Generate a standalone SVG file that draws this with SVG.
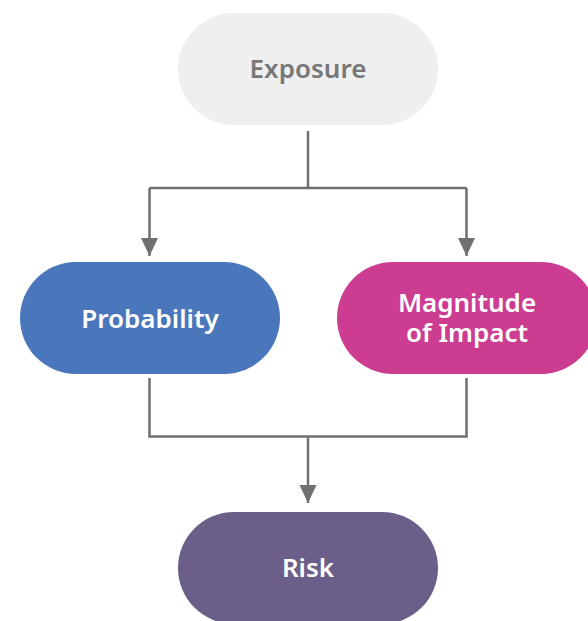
<svg xmlns="http://www.w3.org/2000/svg" width="588" height="621" viewBox="0 0 588 621">
<defs>
<style>
.lbl{font-family:"Noto Sans","Open Sans",sans-serif;font-weight:600;font-size:26px;text-anchor:middle}
.w{fill:#ffffff}
.edge{fill:none;stroke:#707070;stroke-width:2.5}
</style>
<marker id="arr" markerUnits="userSpaceOnUse" markerWidth="18" markerHeight="20" refX="18" refY="8.5" orient="auto" viewBox="0 0 18 17">
<path d="M0,0 L18,8.5 L0,17 Z" fill="#707070"/>
</marker>
</defs>
<rect width="588" height="621" fill="#ffffff"/>
<g id="connectors">
<path class="edge" d="M308,131 V188"/>
<path class="edge" d="M149.5,188 H466.5"/>
<path class="edge" d="M149.5,188 V256" marker-end="url(#arr)"/>
<path class="edge" d="M466.5,188 V256" marker-end="url(#arr)"/>
<path class="edge" d="M149.5,378 V436.5 H466.5 V378"/>
<path class="edge" d="M308,436.5 V503" marker-end="url(#arr)"/>
</g>
<g id="exposure">
<rect x="178" y="13" width="260" height="112" rx="56" fill="#efefef"/>
<text class="lbl" x="308" y="78" fill="#777777">Exposure</text>
</g>
<g id="probability">
<rect x="20" y="262" width="260" height="112" rx="56" fill="#4a77bb"/>
<text class="lbl w" x="150" y="328">Probability</text>
</g>
<g id="magnitude">
<rect x="337" y="262" width="260" height="112" rx="56" fill="#cc3d92"/>
<text class="lbl w" x="467" y="311.5">Magnitude</text>
<text class="lbl w" x="467" y="341.5">of Impact</text>
</g>
<g id="risk">
<rect x="178" y="512" width="260" height="112" rx="56" fill="#6b5f8a"/>
<text class="lbl w" x="308" y="577">Risk</text>
</g>
</svg>
